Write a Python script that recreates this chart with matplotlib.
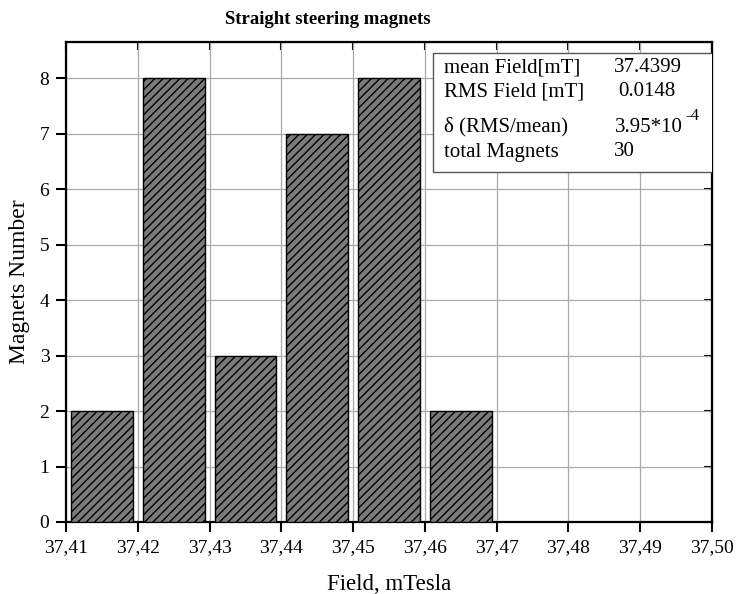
import matplotlib
matplotlib.use("Agg")
import matplotlib.pyplot as plt
from matplotlib.patches import Rectangle

plt.rcParams['font.family'] = ['Liberation Serif', 'DejaVu Serif']
plt.rcParams['hatch.color'] = '#2a2a2a'
plt.rcParams['hatch.linewidth'] = 1.0

bin_left = [37.41, 37.42, 37.43, 37.44, 37.45, 37.46]
counts = [2, 8, 3, 7, 8, 2]
xticks = [37.41, 37.42, 37.43, 37.44, 37.45, 37.46, 37.47, 37.48, 37.49, 37.50]
xticklabels = ['37,41', '37,42', '37,43', '37,44', '37,45', '37,46', '37,47', '37,48', '37,49', '37,50']
yticks = [0, 1, 2, 3, 4, 5, 6, 7, 8]
stat_names = ['mean Field[mT]', 'RMS Field [mT]', 'δ (RMS/mean)', 'total Magnets']
stat_values = ['37.4399', '0.0148', '3.95*10', '30']
stat_exponent = '-4'

fig = plt.figure(figsize=(7.36, 5.94), dpi=100)
ax = fig.add_axes([66/736, 1-522/594, (712-66)/736, (522-42)/594])

centers = [b + 0.005 for b in bin_left]
ax.bar(centers, counts, width=0.0086, color='#7a7a7a', edgecolor='black',
       linewidth=1.0, hatch='////', zorder=3)

ax.set_xlim(37.41, 37.50)
ax.set_ylim(0, 8.65)
ax.set_xticks(xticks)
ax.set_xticklabels(xticklabels)
ax.set_yticks(yticks)
ax.grid(True, color='#aaaaaa', linewidth=0.9, zorder=0)
ax.set_axisbelow(True)
ax.tick_params(axis='both', direction='out', length=7, width=1.5, labelsize=14)
ax.tick_params(axis='x', pad=5)
ax.tick_params(axis='y', pad=5)
for s in ax.spines.values():
    s.set_linewidth(1.6)

secx = ax.secondary_xaxis('top')
secx.set_xticks(xticks)
secx.tick_params(direction='in', length=6, width=1.5, labeltop=False)
secy = ax.secondary_yaxis('right')
secy.set_yticks(yticks)
secy.tick_params(direction='in', length=6, width=1.5, labelright=False)

ax.set_xlabel('Field, mTesla', fontsize=16.5, labelpad=13)
ax.set_ylabel('Magnets Number', fontsize=17, labelpad=7)
fig.text(328/736, 1-20/594, 'Straight steering magnets', fontsize=13.5,
         fontweight='bold', ha='center', va='center')

# stats box
def ax_x(px):
    return (px - 66) / (712 - 66)

def ax_y(py):
    return (522 - py) / (522 - 42)

x0, y0, x1, y1 = 433, 53, 714, 172
ax.add_patch(Rectangle((ax_x(x0), ax_y(y1)), ax_x(x1) - ax_x(x0), ax_y(y0) - ax_y(y1),
                       transform=ax.transAxes, facecolor='white', edgecolor='#555555',
                       linewidth=1.0, zorder=5))
ys = [68, 92, 127, 152]
xs_val = [614, 618, 615, 614]
for name, val, yy, xv in zip(stat_names, stat_values, ys, xs_val):
    ax.text(ax_x(444), ax_y(yy), name, transform=ax.transAxes,
            fontsize=15, va='center', ha='left', zorder=6)
    ax.text(ax_x(xv), ax_y(yy), val, transform=ax.transAxes,
            fontsize=15, va='center', ha='left', zorder=6)
ax.text(ax_x(685), ax_y(116), stat_exponent, transform=ax.transAxes,
        fontsize=12, va='center', ha='left', zorder=6)

fig.savefig('out.png', dpi=100)
